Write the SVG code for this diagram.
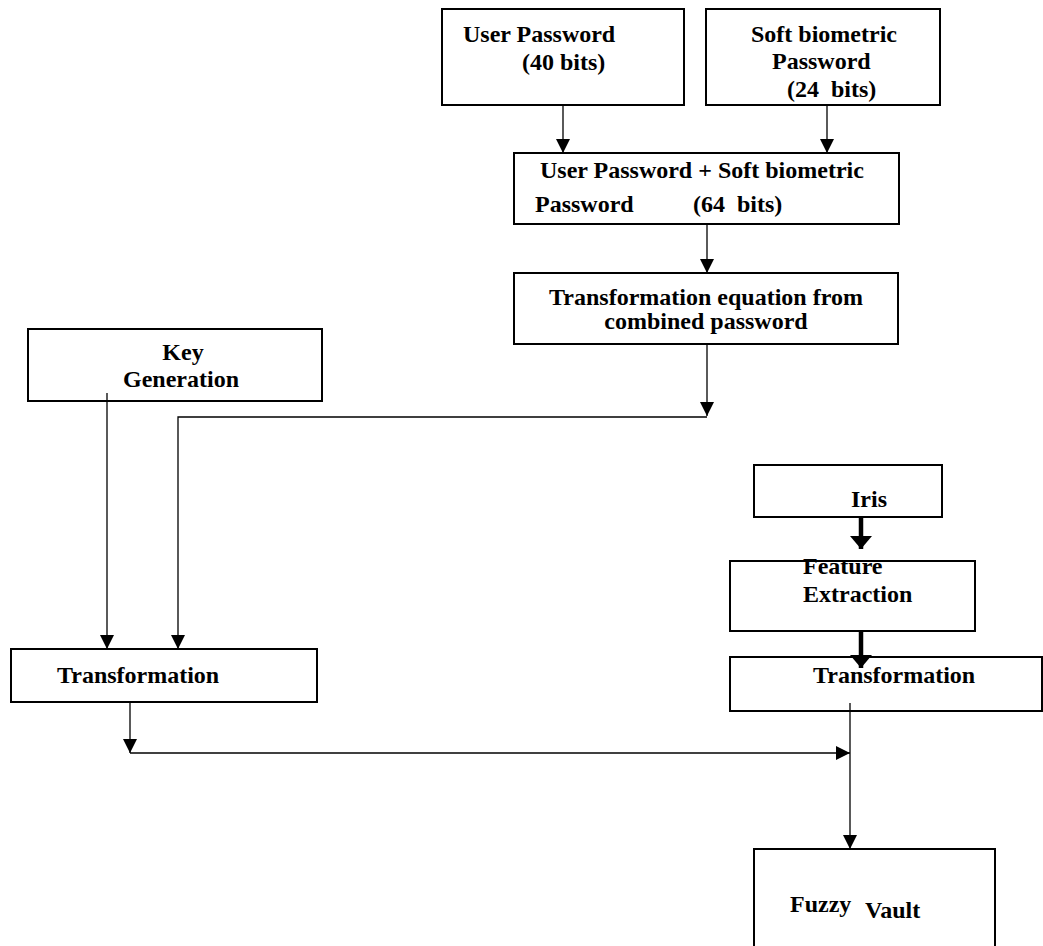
<svg xmlns="http://www.w3.org/2000/svg" width="1043" height="946" viewBox="0 0 1043 946">
<style>
  .box { fill: #ffffff; stroke: #000000; stroke-width: 2; }
  .t { font-family: "Liberation Serif", "Times New Roman", serif; font-weight: bold; font-size: 24px; fill: #000000; white-space: pre; }
  .c { fill: none; stroke: #000000; stroke-width: 1.3; }
  .ck { fill: none; stroke: #000000; stroke-width: 4.5; }
</style>
<defs>
  <marker id="arr" markerUnits="userSpaceOnUse" markerWidth="15" markerHeight="15" refX="14" refY="7" orient="auto">
    <path d="M0,0 L14,7 L0,14 z" fill="#000000"/>
  </marker>
  <marker id="arrk" markerUnits="userSpaceOnUse" markerWidth="15" markerHeight="23" refX="13" refY="11" orient="auto">
    <path d="M0,0 L13,11 L0,22 z" fill="#000000"/>
  </marker>
</defs>
<rect width="1043" height="946" fill="#ffffff"/>

<g id="user-password">
  <rect class="box" x="442" y="9" width="242" height="96"/>
  <text class="t" x="463" y="42">User Password</text>
  <text class="t" x="522" y="70">(40 bits)</text>
</g>

<g id="soft-biometric">
  <rect class="box" x="706" y="9" width="234" height="96"/>
  <text class="t" x="751" y="42">Soft biometric</text>
  <text class="t" x="772" y="69">Password</text>
  <text class="t" x="787" y="97">(24  bits)</text>
</g>

<g id="combined">
  <rect class="box" x="514" y="153" width="385" height="71"/>
  <text class="t" x="540" y="178">User Password + Soft biometric</text>
  <text class="t" x="535" y="212">Password</text>
  <text class="t" x="693" y="212">(64  bits)</text>
</g>

<g id="transformation-equation">
  <rect class="box" x="514" y="273" width="384" height="71"/>
  <text class="t" x="706" y="305" text-anchor="middle">Transformation equation from</text>
  <text class="t" x="706" y="329" text-anchor="middle">combined password</text>
</g>

<g id="key-generation">
  <rect class="box" x="28" y="329" width="294" height="72"/>
  <text class="t" x="183" y="360" text-anchor="middle">Key</text>
  <text class="t" x="181" y="387" text-anchor="middle">Generation</text>
</g>

<g id="transformation-left">
  <rect class="box" x="11" y="649" width="306" height="53"/>
  <text class="t" x="57" y="683">Transformation</text>
</g>

<g id="iris">
  <rect class="box" x="754" y="465" width="188" height="52"/>
  <text class="t" x="851" y="507">Iris</text>
</g>

<g id="feature-extraction">
  <rect class="box" x="730" y="561" width="245" height="70"/>
  <text class="t" x="803" y="574">Feature</text>
  <text class="t" x="803" y="602">Extraction</text>
</g>

<g id="transformation-right">
  <rect class="box" x="730" y="657" width="312" height="54"/>
  <text class="t" x="813" y="683">Transformation</text>
</g>

<g id="fuzzy-vault">
  <rect class="box" x="754" y="849" width="241" height="120"/>
  <text class="t" x="790" y="912">Fuzzy</text>
  <text class="t" x="865" y="918">Vault</text>
</g>

<g id="connectors">
  <line class="c" x1="563" y1="105" x2="563" y2="153" marker-end="url(#arr)"/>
  <line class="c" x1="827" y1="105" x2="827" y2="153" marker-end="url(#arr)"/>
  <line class="c" x1="707" y1="224" x2="707" y2="273" marker-end="url(#arr)"/>
  <line class="c" x1="707" y1="344" x2="707" y2="416" marker-end="url(#arr)"/>
  <polyline class="c" points="707,417 178,417 178,649" marker-end="url(#arr)"/>
  <line class="c" x1="107" y1="393" x2="107" y2="649" marker-end="url(#arr)"/>
  <line class="c" x1="130" y1="702" x2="130" y2="753" marker-end="url(#arr)"/>
  <line class="c" x1="130" y1="753" x2="850" y2="753" marker-end="url(#arr)"/>
  <line class="c" x1="850" y1="703" x2="850" y2="849" marker-end="url(#arr)"/>
  <line class="ck" x1="861" y1="517" x2="861" y2="549" marker-end="url(#arrk)"/>
  <line class="ck" x1="861" y1="631" x2="861" y2="668" marker-end="url(#arrk)"/>
</g>
</svg>
